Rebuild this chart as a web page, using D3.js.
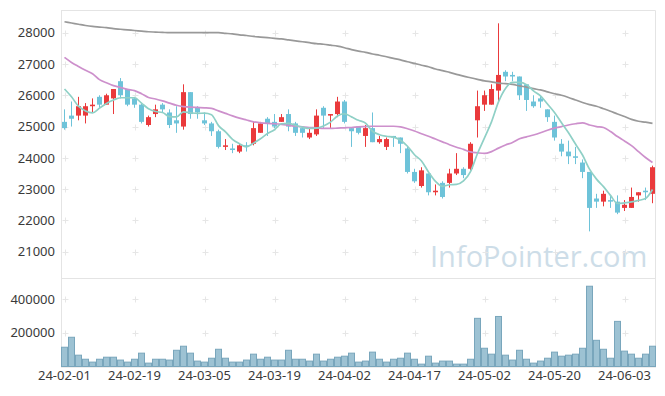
<!DOCTYPE html>
<html>
<head>
<meta charset="utf-8">
<script src="https://cdn.jsdelivr.net/npm/d3@7/dist/d3.min.js"></script>
<style>
  body { margin: 0; background: #fff; }
  text { font-family: "Noto Sans", "Liberation Sans", sans-serif; }
</style>
</head>
<body>
<div id="chart"></div>
<script>
// trading days shown on the chart
var dates = ["24-02-01","24-02-02","24-02-05","24-02-06","24-02-07","24-02-08","24-02-13","24-02-14","24-02-15","24-02-16",
  "24-02-19","24-02-20","24-02-21","24-02-22","24-02-23","24-02-26","24-02-27","24-02-28","24-02-29","24-03-04",
  "24-03-05","24-03-06","24-03-07","24-03-08","24-03-11","24-03-12","24-03-13","24-03-14","24-03-15","24-03-18",
  "24-03-19","24-03-20","24-03-21","24-03-22","24-03-25","24-03-26","24-03-27","24-03-28","24-03-29","24-04-01",
  "24-04-02","24-04-03","24-04-04","24-04-05","24-04-08","24-04-09","24-04-11","24-04-12","24-04-15","24-04-16",
  "24-04-17","24-04-18","24-04-19","24-04-22","24-04-23","24-04-24","24-04-25","24-04-26","24-04-29","24-04-30",
  "24-05-02","24-05-03","24-05-07","24-05-08","24-05-09","24-05-10","24-05-13","24-05-14","24-05-16","24-05-17",
  "24-05-20","24-05-21","24-05-22","24-05-23","24-05-24","24-05-27","24-05-28","24-05-29","24-05-30","24-05-31",
  "24-06-03","24-06-04","24-06-05","24-06-07","24-06-10"];

var open = [25150,25350,25350,25350,25650,25950,25700,25900,26450,26200,
  25900,25700,25050,25400,25700,25450,25200,25000,26100,25600,
  25200,25100,24850,24350,24300,24200,24400,24450,24800,25250,
  25150,25150,25400,25100,24950,24650,24750,25600,25350,25400,
  25800,24950,25000,24700,24950,24500,24350,24700,24650,24300,
  23550,23100,23500,22900,23200,23200,23500,23650,23650,25200,
  25700,25700,26150,26750,26650,26600,26350,25800,25900,25550,
  25150,24450,24200,24050,23850,23550,22700,22600,22650,22600,
  22400,22400,22800,22950,22850];
var high = [25550,25800,25950,25750,25900,26000,26050,26200,26550,26200,
  25950,25750,25350,25700,25750,25550,25650,26350,26100,25650,
  25450,25150,24900,24600,24450,24450,24500,25150,25150,25300,
  25400,25400,25550,25150,25000,24950,25550,25650,25400,25950,
  25850,24950,25000,25050,25450,24700,24650,24700,24650,24350,
  23650,23700,23500,23150,23250,23650,24150,23700,24500,26150,
  26150,26350,28300,26800,26750,26600,26350,26000,26000,25550,
  25350,24600,24550,24350,23950,23550,22850,22950,22800,22800,
  22650,23050,22900,23050,23750];
var low = [24900,25000,25200,25100,25450,25600,25700,25400,25900,25650,
  25600,25100,25000,25300,25450,24950,24800,24900,25250,25250,
  25050,24700,24300,24250,24150,24150,24200,24400,24800,24700,
  24950,25150,24850,24700,24650,24600,24700,24950,24950,25300,
  25100,24350,24750,24350,24500,24450,24250,24350,24150,23500,
  23200,23050,22800,22800,22700,23050,23450,23350,23600,24650,
  25500,25700,25800,26450,26450,25850,25500,25600,25600,25150,
  24550,24050,23800,23800,23350,21650,22400,22450,22400,22200,
  22300,22400,22600,22650,22550];
var close = [24950,25250,25650,25650,25700,25700,26000,26200,26000,25700,
  25700,25150,25300,25550,25550,25050,25100,26100,25400,25450,
  25100,24850,24350,24400,24250,24400,24350,24950,25100,25100,
  25000,25300,25000,24800,24800,24800,25350,25350,25400,25800,
  25150,24850,24800,24950,24500,24600,24600,24650,24450,23550,
  23250,23600,22900,22950,22750,23500,23650,23450,24450,25650,
  26000,26200,26650,26600,26600,26000,25850,25650,25800,25300,
  24650,24200,24050,24000,23550,22400,22600,22850,22600,22250,
  22500,22750,22900,22900,23700];
var volume = [114000,173000,67000,43000,26000,43000,55000,55000,38000,26000,
  43000,79000,20000,43000,43000,38000,96000,120000,79000,32000,
  26000,49000,102000,49000,26000,26000,38000,73000,43000,55000,
  38000,38000,96000,43000,43000,32000,73000,32000,43000,55000,
  61000,79000,26000,32000,85000,43000,26000,43000,49000,79000,
  43000,14000,61000,20000,32000,32000,14000,14000,43000,285000,
  108000,73000,296000,67000,38000,96000,43000,20000,32000,49000,
  85000,61000,67000,73000,108000,475000,155000,102000,49000,267000,
  91000,73000,49000,73000,120000];

// moving averages
var ma5 = [26200,25950,25650,25500,25440,25590,25740,25850,25920,25920,
  25920,25750,25570,25480,25450,25320,25310,25470,25440,25420,
  25430,25380,25030,24830,24590,24450,24350,24470,24610,24780,
  24900,25090,25100,25040,24980,24940,24950,25020,25140,25340,
  25410,25310,25200,25110,24850,24740,24690,24660,24560,24370,
  24100,23900,23550,23250,23090,23140,23150,23260,23560,24140,
  24640,25150,25790,26220,26410,26410,26340,26140,25980,25720,
  25450,25120,24800,24440,24090,23640,23320,23080,22800,22540,
  22560,22590,22640,22700,22990];
var ma20 = [27210,27050,26920,26800,26690,26500,26400,26310,26250,26190,
  26150,26050,25930,25880,25820,25750,25680,25640,25620,25610,
  25600,25580,25500,25420,25340,25270,25210,25150,25120,25100,
  25090,25070,25040,25010,24990,24970,24960,24940,24940,24950,
  24960,24970,24990,25000,25010,25010,25010,25010,24990,24930,
  24860,24770,24690,24600,24510,24420,24340,24270,24190,24160,
  24140,24200,24310,24410,24490,24610,24670,24730,24800,24880,
  24950,25000,25050,25090,25120,25050,25000,24970,24840,24680,
  24540,24390,24200,24010,23850];
var ma120 = [28350,28310,28270,28230,28200,28180,28160,28130,28110,28090,
  28070,28050,28030,28020,28010,28000,28000,28000,28000,28000,
  28000,28000,28000,27980,27960,27930,27910,27880,27860,27840,
  27820,27800,27770,27740,27710,27680,27650,27630,27600,27570,
  27520,27460,27410,27370,27320,27280,27230,27180,27130,27070,
  27020,26960,26910,26840,26790,26730,26670,26610,26560,26510,
  26460,26430,26390,26370,26350,26300,26260,26210,26170,26110,
  26050,26000,25930,25850,25770,25700,25650,25570,25490,25400,
  25320,25230,25170,25140,25100];

var priceTicks = [21000,22000,23000,24000,25000,26000,27000,28000];
var volumeTicks = [200000,400000];
var tickDates = dates.filter(function(d, i) { return i % 10 == 0; });

var width = 665,
    height = 396;
var left = 61, right = 656;
var priceTop = 10, priceBottom = 278.5, volBottom = 366.5;

var svg = d3.select("#chart")
  .append("svg")
    .attr("width", width)
    .attr("height", height)
    .style("display", "block");

// scales
var x = d3.scaleBand()
  .domain(dates)
  .range([left, right])
  .padding(0);

var y = d3.scaleLinear()
  .domain([21000, 28000])
  .range([251.7, 32.7]);

var yv = d3.scaleLinear()
  .domain([0, 200000])
  .range([volBottom, 332.7]);

function cx(d) { return x(d) + x.bandwidth() / 2; }

svg.append("clipPath").attr("id", "clipPrice")
  .append("rect").attr("x", left).attr("y", priceTop)
  .attr("width", right - left).attr("height", priceBottom - priceTop);

// watermark
svg.append("text")
  .attr("x", 430)
  .attr("y", 267)
  .style("font-family", "'Open Sans', sans-serif")
  .style("font-size", "29px")
  .style("fill", "#cddde8")
  .text("InfoPointer.com");

// grid crosses
var crosses = svg.append("g").attr("stroke", "#e6e6e6").attr("stroke-width", 1);
tickDates.forEach(function(d) {
  var px = Math.round(cx(d)) + 0.5;
  priceTicks.forEach(function(t) {
    var py = Math.round(y(t)) + 0.5;
    crosses.append("path").attr("d", "M" + (px - 3) + "," + py + "h6M" + px + "," + (py - 3) + "v6");
  });
  volumeTicks.forEach(function(t) {
    var py = Math.round(yv(t)) + 0.5;
    crosses.append("path").attr("d", "M" + (px - 3) + "," + py + "h6M" + px + "," + (py - 3) + "v6");
  });
});

// panel borders
var borders = svg.append("g").attr("fill", "none").attr("stroke", "#e4e4e4");
borders.append("path").attr("d", "M" + (left + 0.5) + "," + (priceTop + 0.5) + "H" + (right - 0.5) + "V" + volBottom);
borders.append("path").attr("d", "M" + left + "," + priceBottom + "H" + right);
borders.append("path").attr("d", "M" + (left + 0.5) + "," + priceTop + "V" + volBottom);
borders.append("path").attr("d", "M" + left + "," + (volBottom + 0.5) + "H" + right).attr("stroke", "#dcdcdc");

// volume bars
svg.append("g")
  .selectAll("rect")
  .data(dates)
  .enter()
  .append("rect")
    .attr("x", function(d) { return x(d) + 0.5; })
    .attr("y", function(d, i) { return yv(volume[i]); })
    .attr("width", x.bandwidth() - 1)
    .attr("height", function(d, i) { return volBottom - yv(volume[i]); })
    .attr("fill", "#9dc2d3")
    .attr("stroke", "#79a6bc")
    .attr("stroke-width", 1);

// candles
var up = "#ea3a3c", down = "#6ec3d9";
var candles = svg.append("g").attr("clip-path", "url(#clipPrice)");
candles.selectAll("line")
  .data(dates)
  .enter()
  .append("line")
    .attr("x1", cx).attr("x2", cx)
    .attr("y1", function(d, i) { return y(high[i]); })
    .attr("y2", function(d, i) { return y(low[i]); })
    .attr("stroke", function(d, i) { return close[i] > open[i] ? up : down; })
    .attr("stroke-width", 1);
candles.selectAll("rect")
  .data(dates)
  .enter()
  .append("rect")
    .attr("x", function(d) { return cx(d) - 2.5; })
    .attr("y", function(d, i) { return y(Math.max(open[i], close[i])); })
    .attr("width", 5)
    .attr("height", function(d, i) { return Math.max(1, Math.abs(y(open[i]) - y(close[i]))); })
    .attr("fill", function(d, i) { return close[i] > open[i] ? up : down; });

// moving average lines
var lines = [
  { values: ma120, color: "#999999" },
  { values: ma20, color: "#cd90cc" },
  { values: ma5, color: "#8fd0c6" }
];
var lineGen = d3.line()
  .x(function(d) { return cx(d.date); })
  .y(function(d) { return y(d.value); })
  .curve(d3.curveMonotoneX);
lines.forEach(function(l) {
  candles.append("path")
    .datum(dates.map(function(d, i) { return { date: d, value: l.values[i] }; }))
    .attr("d", lineGen)
    .attr("fill", "none")
    .attr("stroke", l.color)
    .attr("stroke-width", 1.7);
});

// axes
var yAxis = svg.append("g")
  .attr("transform", "translate(" + (left - 6) + ",0)")
  .call(d3.axisLeft(y).tickValues(priceTicks).tickSize(0).tickPadding(0).tickFormat(d3.format("d")));
var vAxis = svg.append("g")
  .attr("transform", "translate(" + (left - 6) + ",0)")
  .call(d3.axisLeft(yv).tickValues(volumeTicks).tickSize(0).tickPadding(0).tickFormat(d3.format("d")));
var xAxis = svg.append("g")
  .attr("transform", "translate(0," + volBottom + ")")
  .call(d3.axisBottom(x).tickValues(tickDates).tickSize(0).tickPadding(4));

[yAxis, vAxis, xAxis].forEach(function(a) {
  a.select(".domain").remove();
  a.selectAll("text")
    .style("font-family", "'Noto Sans', sans-serif")
    .style("font-size", "13px")
    .style("fill", "#3a3a3a");
});
</script>
</body>
</html>
